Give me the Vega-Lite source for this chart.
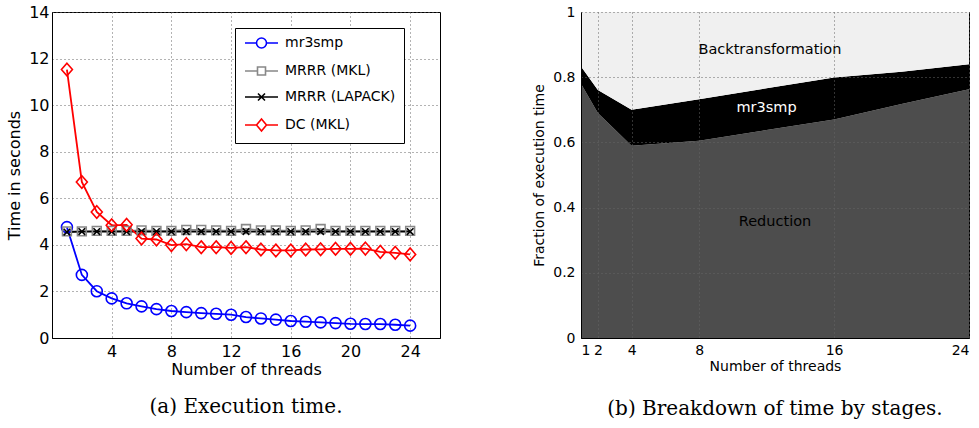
{
  "$schema": "https://vega.github.io/schema/vega-lite/v6.json",
  "background": "white",
  "padding": {"left": 6, "top": 3, "right": 0, "bottom": 0},
  "bounds": "flush",
  "spacing": 141,
  "resolve": {"scale": {"color": "independent", "x": "independent", "y": "independent"}, "legend": {"color": "independent"}},
  "config": {
    "view": {"stroke": "black", "strokeWidth": 1},
    "axis": {
      "labelFont": "DejaVu Sans", "titleFont": "DejaVu Sans", "labelColor": "black", "titleColor": "black",
      "domainColor": "black", "tickColor": "black", "titleFontWeight": "normal",
      "gridColor": "#666", "gridDash": [1, 3], "gridOpacity": 1, "gridWidth": 1, "tickSize": 0, "domain": true
    },
    "title": {"font": "DejaVu Serif", "fontSize": 20, "fontWeight": "normal", "color": "black"}
  },
  "datasets": {
    "time": [
      {"threads": 1, "series": "mr3smp", "t": 4.76}, {"threads": 2, "series": "mr3smp", "t": 2.71}, {"threads": 3, "series": "mr3smp", "t": 2.01}, {"threads": 4, "series": "mr3smp", "t": 1.70},
      {"threads": 5, "series": "mr3smp", "t": 1.49}, {"threads": 6, "series": "mr3smp", "t": 1.36}, {"threads": 7, "series": "mr3smp", "t": 1.24}, {"threads": 8, "series": "mr3smp", "t": 1.16},
      {"threads": 9, "series": "mr3smp", "t": 1.11}, {"threads": 10, "series": "mr3smp", "t": 1.07}, {"threads": 11, "series": "mr3smp", "t": 1.04}, {"threads": 12, "series": "mr3smp", "t": 1.00},
      {"threads": 13, "series": "mr3smp", "t": 0.90}, {"threads": 14, "series": "mr3smp", "t": 0.84}, {"threads": 15, "series": "mr3smp", "t": 0.79}, {"threads": 16, "series": "mr3smp", "t": 0.73},
      {"threads": 17, "series": "mr3smp", "t": 0.70}, {"threads": 18, "series": "mr3smp", "t": 0.67}, {"threads": 19, "series": "mr3smp", "t": 0.64}, {"threads": 20, "series": "mr3smp", "t": 0.61},
      {"threads": 21, "series": "mr3smp", "t": 0.60}, {"threads": 22, "series": "mr3smp", "t": 0.60}, {"threads": 23, "series": "mr3smp", "t": 0.57}, {"threads": 24, "series": "mr3smp", "t": 0.53},
      {"threads": 1, "series": "MRRR (MKL)", "t": 4.58}, {"threads": 2, "series": "MRRR (MKL)", "t": 4.58}, {"threads": 3, "series": "MRRR (MKL)", "t": 4.60}, {"threads": 4, "series": "MRRR (MKL)", "t": 4.60},
      {"threads": 5, "series": "MRRR (MKL)", "t": 4.60}, {"threads": 6, "series": "MRRR (MKL)", "t": 4.62}, {"threads": 7, "series": "MRRR (MKL)", "t": 4.60}, {"threads": 8, "series": "MRRR (MKL)", "t": 4.60},
      {"threads": 9, "series": "MRRR (MKL)", "t": 4.64}, {"threads": 10, "series": "MRRR (MKL)", "t": 4.64}, {"threads": 11, "series": "MRRR (MKL)", "t": 4.62}, {"threads": 12, "series": "MRRR (MKL)", "t": 4.60},
      {"threads": 13, "series": "MRRR (MKL)", "t": 4.68}, {"threads": 14, "series": "MRRR (MKL)", "t": 4.62}, {"threads": 15, "series": "MRRR (MKL)", "t": 4.62}, {"threads": 16, "series": "MRRR (MKL)", "t": 4.60},
      {"threads": 17, "series": "MRRR (MKL)", "t": 4.62}, {"threads": 18, "series": "MRRR (MKL)", "t": 4.68}, {"threads": 19, "series": "MRRR (MKL)", "t": 4.60}, {"threads": 20, "series": "MRRR (MKL)", "t": 4.60},
      {"threads": 21, "series": "MRRR (MKL)", "t": 4.60}, {"threads": 22, "series": "MRRR (MKL)", "t": 4.60}, {"threads": 23, "series": "MRRR (MKL)", "t": 4.60}, {"threads": 24, "series": "MRRR (MKL)", "t": 4.60},
      {"threads": 1, "series": "MRRR (LAPACK)", "t": 4.55}, {"threads": 2, "series": "MRRR (LAPACK)", "t": 4.57}, {"threads": 3, "series": "MRRR (LAPACK)", "t": 4.57}, {"threads": 4, "series": "MRRR (LAPACK)", "t": 4.57},
      {"threads": 5, "series": "MRRR (LAPACK)", "t": 4.57}, {"threads": 6, "series": "MRRR (LAPACK)", "t": 4.57}, {"threads": 7, "series": "MRRR (LAPACK)", "t": 4.57}, {"threads": 8, "series": "MRRR (LAPACK)", "t": 4.57},
      {"threads": 9, "series": "MRRR (LAPACK)", "t": 4.57}, {"threads": 10, "series": "MRRR (LAPACK)", "t": 4.57}, {"threads": 11, "series": "MRRR (LAPACK)", "t": 4.57}, {"threads": 12, "series": "MRRR (LAPACK)", "t": 4.57},
      {"threads": 13, "series": "MRRR (LAPACK)", "t": 4.57}, {"threads": 14, "series": "MRRR (LAPACK)", "t": 4.57}, {"threads": 15, "series": "MRRR (LAPACK)", "t": 4.57}, {"threads": 16, "series": "MRRR (LAPACK)", "t": 4.57},
      {"threads": 17, "series": "MRRR (LAPACK)", "t": 4.57}, {"threads": 18, "series": "MRRR (LAPACK)", "t": 4.57}, {"threads": 19, "series": "MRRR (LAPACK)", "t": 4.57}, {"threads": 20, "series": "MRRR (LAPACK)", "t": 4.57},
      {"threads": 21, "series": "MRRR (LAPACK)", "t": 4.57}, {"threads": 22, "series": "MRRR (LAPACK)", "t": 4.57}, {"threads": 23, "series": "MRRR (LAPACK)", "t": 4.57}, {"threads": 24, "series": "MRRR (LAPACK)", "t": 4.57},
      {"threads": 1, "series": "DC (MKL)", "t": 11.53}, {"threads": 2, "series": "DC (MKL)", "t": 6.70}, {"threads": 3, "series": "DC (MKL)", "t": 5.41}, {"threads": 4, "series": "DC (MKL)", "t": 4.84},
      {"threads": 5, "series": "DC (MKL)", "t": 4.86}, {"threads": 6, "series": "DC (MKL)", "t": 4.27}, {"threads": 7, "series": "DC (MKL)", "t": 4.23}, {"threads": 8, "series": "DC (MKL)", "t": 3.99},
      {"threads": 9, "series": "DC (MKL)", "t": 4.03}, {"threads": 10, "series": "DC (MKL)", "t": 3.90}, {"threads": 11, "series": "DC (MKL)", "t": 3.90}, {"threads": 12, "series": "DC (MKL)", "t": 3.87},
      {"threads": 13, "series": "DC (MKL)", "t": 3.90}, {"threads": 14, "series": "DC (MKL)", "t": 3.80}, {"threads": 15, "series": "DC (MKL)", "t": 3.76}, {"threads": 16, "series": "DC (MKL)", "t": 3.76},
      {"threads": 17, "series": "DC (MKL)", "t": 3.80}, {"threads": 18, "series": "DC (MKL)", "t": 3.81}, {"threads": 19, "series": "DC (MKL)", "t": 3.83}, {"threads": 20, "series": "DC (MKL)", "t": 3.83},
      {"threads": 21, "series": "DC (MKL)", "t": 3.84}, {"threads": 22, "series": "DC (MKL)", "t": 3.70}, {"threads": 23, "series": "DC (MKL)", "t": 3.66}, {"threads": 24, "series": "DC (MKL)", "t": 3.59}
    ],
    "stages": [
      {"threads": 1, "stage": "Reduction", "frac": 0.780}, {"threads": 2, "stage": "Reduction", "frac": 0.690}, {"threads": 4, "stage": "Reduction", "frac": 0.590}, {"threads": 8, "stage": "Reduction", "frac": 0.605},
      {"threads": 12, "stage": "Reduction", "frac": 0.638}, {"threads": 16, "stage": "Reduction", "frac": 0.670}, {"threads": 20, "stage": "Reduction", "frac": 0.718}, {"threads": 24, "stage": "Reduction", "frac": 0.763},
      {"threads": 1, "stage": "mr3smp", "frac": 0.053}, {"threads": 2, "stage": "mr3smp", "frac": 0.071}, {"threads": 4, "stage": "mr3smp", "frac": 0.110}, {"threads": 8, "stage": "mr3smp", "frac": 0.127},
      {"threads": 12, "stage": "mr3smp", "frac": 0.128}, {"threads": 16, "stage": "mr3smp", "frac": 0.129}, {"threads": 20, "stage": "mr3smp", "frac": 0.099}, {"threads": 24, "stage": "mr3smp", "frac": 0.077},
      {"threads": 1, "stage": "Backtransformation", "frac": 0.167}, {"threads": 2, "stage": "Backtransformation", "frac": 0.239}, {"threads": 4, "stage": "Backtransformation", "frac": 0.300}, {"threads": 8, "stage": "Backtransformation", "frac": 0.268},
      {"threads": 12, "stage": "Backtransformation", "frac": 0.234}, {"threads": 16, "stage": "Backtransformation", "frac": 0.201}, {"threads": 20, "stage": "Backtransformation", "frac": 0.183}, {"threads": 24, "stage": "Backtransformation", "frac": 0.160}
    ],
    "annot": [
      {"threads": 12.2, "frac": 0.884, "label": "Backtransformation"},
      {"threads": 12.0, "frac": 0.705, "label": "mr3smp"},
      {"threads": 12.5, "frac": 0.356, "label": "Reduction"}
    ]
  },
  "hconcat": [
    {
      "width": 388, "height": 326,
      "data": {"name": "time"},
      "title": {"text": "(a) Execution time.", "orient": "bottom", "anchor": "middle", "offset": 20},
      "encoding": {
        "x": {"field": "threads", "type": "quantitative", "scale": {"domain": [0, 26], "nice": false},
          "axis": {"values": [4, 8, 12, 16, 20, 24], "title": "Number of threads", "labelFontSize": 16, "titleFontSize": 16, "labelPadding": 5, "titlePadding": 2, "grid": true}},
        "y": {"field": "t", "type": "quantitative", "scale": {"domain": [0, 14], "nice": false},
          "axis": {"values": [0, 2, 4, 6, 8, 10, 12, 14], "title": "Time in seconds", "labelFontSize": 16, "titleFontSize": 16, "labelPadding": 3, "titlePadding": 6, "grid": true}},
        "color": {"field": "series", "type": "nominal",
          "scale": {"domain": ["mr3smp", "MRRR (MKL)", "MRRR (LAPACK)", "DC (MKL)"], "range": ["#0000ff", "#888888", "#000000", "#ff0000"]},
          "legend": {"orient": "none", "legendX": 183, "legendY": 16, "title": null, "strokeColor": "black", "fillColor": "white",
            "padding": 8, "labelFont": "DejaVu Sans", "labelFontSize": 14, "labelColor": "black", "symbolSize": 100, "labelOffset": 28,
            "rowPadding": 11, "symbolStrokeWidth": 1.6, "symbolFillColor": "transparent",
            "encode": {"symbols": {"update": {"fill": {"value": "transparent"}, "shape": {"signal": "datum.value === 'mr3smp' ? 'M-1,0L1.3,0M3.3,0L5.6,0M1.3,0A1,1,0,1,1,3.3,0A1,1,0,1,1,1.3,0Z' : datum.value === 'MRRR (MKL)' ? 'M-1,0L1.5,0M3.1,0L5.6,0M1.5,-0.8L3.1,-0.8L3.1,0.8L1.5,0.8Z' : datum.value === 'MRRR (LAPACK)' ? 'M-1,0L5.6,0M1.6,-0.7L3.0,0.7M1.6,0.7L3.0,-0.7' : 'M-1,0L1.3,0M3.3,0L5.6,0M2.3,-1.2L3.3,0L2.3,1.2L1.3,0Z'"}}}}}
        }
      },
      "layer": [
        {"mark": {"type": "line", "strokeWidth": 1.8}},
        {"mark": {"type": "point", "filled": false, "size": 121, "strokeWidth": 1.6, "opacity": 1},
          "encoding": {
            "shape": {"field": "series", "type": "nominal", "legend": null,
              "scale": {"domain": ["mr3smp", "MRRR (MKL)", "MRRR (LAPACK)", "DC (MKL)"],
                "range": ["M-1,0A1,1,0,1,1,1,0A1,1,0,1,1,-1,0Z", "M-0.8,-0.8L0.8,-0.8L0.8,0.8L-0.8,0.8Z", "M-0.6,-0.6L0.6,0.6M-0.6,0.6L0.6,-0.6", "M0,-1.15L1,0L0,1.15L-1,0Z"]}}
          }
        }
      ]
    },
    {
      "width": 388, "height": 326,
      "title": {"text": "(b) Breakdown of time by stages.", "orient": "bottom", "anchor": "middle", "offset": 26},
      "layer": [
        {
          "data": {"name": "stages"},
          "transform": [{"calculate": "indexof(['Reduction', 'mr3smp', 'Backtransformation'], datum.stage)", "as": "ord"}],
          "mark": {"type": "area", "interpolate": "linear"},
          "encoding": {
            "x": {"field": "threads", "type": "quantitative", "scale": {"domain": [1, 24], "nice": false},
              "axis": {"values": [1, 2, 4, 8, 16, 24], "title": "Number of threads", "labelFontSize": 14, "titleFontSize": 14, "labelPadding": 5, "titlePadding": 2, "grid": true, "zindex": 1}},
            "y": {"field": "frac", "type": "quantitative", "stack": "zero", "scale": {"domain": [0, 1], "nice": false},
              "axis": {"values": [0, 0.2, 0.4, 0.6, 0.8, 1], "format": "~g", "title": "Fraction of execution time", "labelFontSize": 14, "titleFontSize": 14, "labelPadding": 6, "titlePadding": 6, "grid": true, "zindex": 1}},
            "color": {"field": "stage", "type": "nominal", "legend": null,
              "scale": {"domain": ["Reduction", "mr3smp", "Backtransformation"], "range": ["#4d4d4d", "#000000", "#f0f0f0"]}},
            "order": {"field": "ord", "type": "quantitative"}
          }
        },
        {
          "data": {"name": "annot"},
          "mark": {"type": "text", "font": "DejaVu Sans", "fontSize": 14.5, "align": "center", "baseline": "middle"},
          "encoding": {
            "x": {"field": "threads", "type": "quantitative"},
            "y": {"field": "frac", "type": "quantitative"},
            "text": {"field": "label"},
            "color": {"condition": {"test": "datum.label === 'mr3smp'", "value": "white"}, "value": "black"}
          }
        }
      ]
    }
  ]
}
